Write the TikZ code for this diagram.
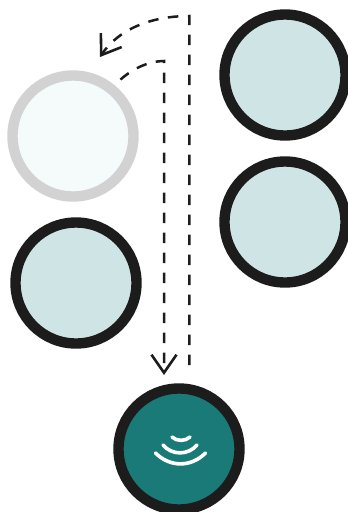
\documentclass[tikz,border=0pt]{standalone}
\usepackage{tikz}
\usetikzlibrary{positioning, arrows.meta}
\definecolor{ringdark}{HTML}{1C1C1C}
\definecolor{ringpale}{HTML}{D2D2D2}
\definecolor{discpale}{HTML}{CFE5E5}
\definecolor{discfaint}{HTML}{F5FBFB}
\definecolor{discteal}{HTML}{1A7A78}
\tikzset{disc/.style={draw=ringdark,circle,line width=10.4pt,fill=discpale,minimum size=121pt,inner sep=0pt,outer sep=0pt}}
\tikzset{flow/.style={line width=2.5pt,draw=ringdark,dash pattern=on 10.5pt off 9.5pt}}
\tikzset{flowtip/.style={-{Straight Barb[length=18pt,width=25pt,line width=2.6pt]}}}
\tikzset{wave/.style={line width=3.6pt,draw=white,line cap=round}}

\begin{document}
\begin{tikzpicture}[x=1pt,y=-1pt]
    \useasboundingbox (0,0) rectangle (348,512);
    \begin{scope}
        \clip (0,0) rectangle (348,512);
        \node[disc] (topright) at (285,75) {};
        \node[disc] (midright) at (285,222) {};
        \node[disc,draw=ringpale,fill=discfaint] (faded) at (73,136) {};
        \node[disc] (lowleft) at (76,283) {};
        \node[disc,fill=discteal] (sender) at (179,449) {};
    \end{scope}

    \coordinate (startout) at (189.3,365);
    \coordinate (cornerout) at (189.3,16);
    \coordinate (endout) at (100,57);
    \coordinate (startback) at (118,82);
    \coordinate (cornerback) at (164,61);
    \coordinate (endback) at (164,375);

    \draw[flow,flowtip] (startout) -- (cornerout) .. controls (150,16) and (118,30) .. (endout);
    \draw[flow,flowtip,dash phase=16.5pt] (startback) .. controls (132,68) and (150,61) .. (cornerback) -- (endback);

    \draw[wave] (172,437) .. controls (177,441.5) and (185,441.5) .. (190,437);
    \draw[wave] (163,445) .. controls (172,455.5) and (188,455.5) .. (197,445);
    \draw[wave] (155.5,453) .. controls (170,467.5) and (191,467.5) .. (205.5,453);
\end{tikzpicture}
\end{document}
